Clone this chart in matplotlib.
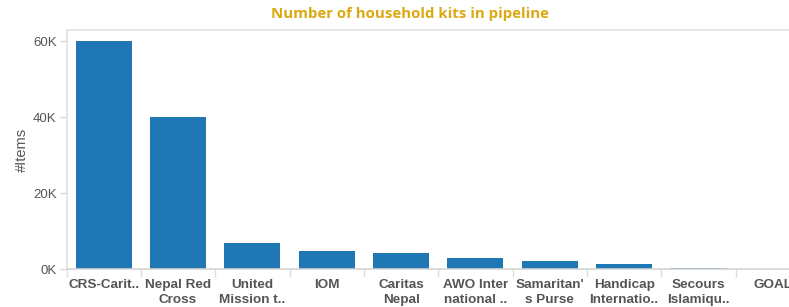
import matplotlib
matplotlib.use("Agg")
import matplotlib.pyplot as plt
from matplotlib.ticker import FuncFormatter, FixedLocator

categories = ["CRS-Carit..", "Nepal Red\nCross", "United\nMission t..", "IOM",
              "Caritas\nNepal", "AWO Inter\nnational ..", "Samaritan'\ns Purse",
              "Handicap\nInternatio..", "Secours\nIslamiqu..", "GOAL"]
values = [60000, 40000, 6800, 4700, 4200, 2900, 2100, 1300, 260, 0]
yticks = [0, 20000, 40000, 60000]

W, H = 789, 307
fig = plt.figure(figsize=(W / 100, H / 100), dpi=100)
left, right, top, bottom = 66.5, 810, 30, 269
ax = fig.add_axes([left / W, (H - bottom) / H, (right - left) / W, (bottom - top) / H])

x = list(range(len(categories)))
ax.bar(x, values, width=0.755, color="#1f77b4", zorder=2)
ax.set_xlim(-0.5, len(categories) - 0.5)
ax.set_ylim(0, 62900)

ax.set_yticks(yticks)
ax.yaxis.set_major_formatter(FuncFormatter(lambda v, p: f"{int(v/1000)}K"))
ax.tick_params(axis="y", length=5, width=1, color="#d9d9d9", pad=2,
               labelsize=9.5, labelcolor="#555555")
for t in ax.get_yticklabels():
    t.set_fontfamily("Liberation Sans")

ax.set_xticks(x)
ax.set_xticklabels(categories, fontfamily="Liberation Sans", fontweight="bold",
                   fontsize=9.7, color="#555555", linespacing=1.35)
ax.tick_params(axis="x", which="major", length=0, pad=7)
ax.xaxis.set_minor_locator(FixedLocator([i - 0.5 for i in range(len(categories) + 1)]))
ax.tick_params(axis="x", which="minor", length=6, width=1, color="#dddddd")

for s in ["left", "top", "right"]:
    ax.spines[s].set_color("#e2e2e2")
    ax.spines[s].set_linewidth(1.2)
ax.spines["bottom"].set_color("#d4d4d4")
ax.spines["bottom"].set_linewidth(1.2)

fig.text(22 / W, 1 - 150 / H, "#Items", rotation=90, ha="center", va="center",
         fontsize=10.5, color="#555555", fontfamily="Liberation Sans")
fig.text(410 / W, 1 - 14 / H, "Number of household kits in pipeline", ha="center",
         va="center", fontsize=10.8, fontweight="bold", color="#dba911",
         fontfamily="Open Sans")

fig.savefig("out.png", dpi=100)
